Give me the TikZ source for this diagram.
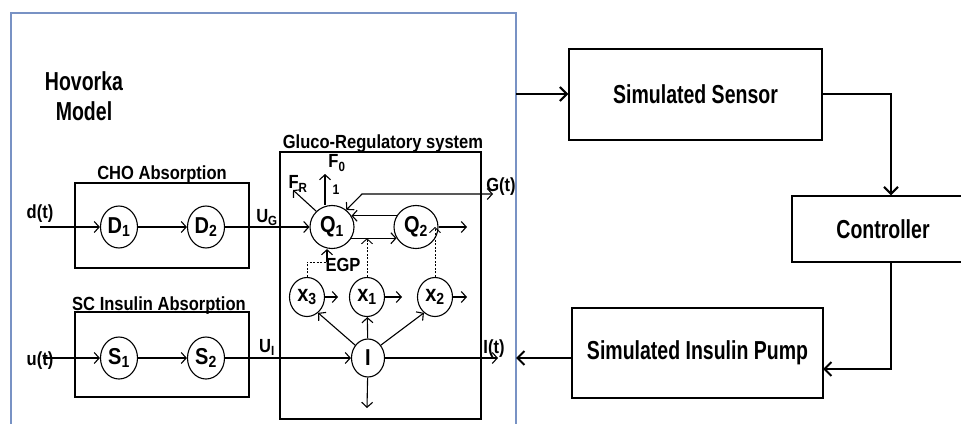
\documentclass[tikz,border=0pt]{standalone}
\usepackage{fontspec}
\setmainfont{Liberation Sans}[FakeStretch=0.87]
\newfontfamily\hvfont{Liberation Sans}[FakeStretch=0.75]
\usetikzlibrary{arrows.meta,positioning,shapes.geometric}
\definecolor{hvblue}{RGB}{120,146,196}

\begin{document}
\begin{tikzpicture}[x=1pt, y=-1pt,
  >={Straight Barb[length=5pt,width=11pt]},
  lbl/.style={font=\fontsize{19}{19}\selectfont\bfseries, inner sep=0pt},
  bigtxt/.style={font=\hvfont\fontsize{26}{30}\selectfont\bfseries, align=center},
  comp/.style={draw, ellipse, line width=1.1pt, minimum width=37pt, minimum height=42pt, inner sep=0pt, font=\fontsize{23}{23}\selectfont\bfseries},
  blk/.style={draw, line width=1.4pt, inner sep=0pt},
  arr/.style={->, line width=1.1pt},
  barr/.style={-{Straight Barb[length=7pt,width=14pt]}, line width=2pt},
  dsh/.style={dash pattern=on 2pt off 1.5pt, line width=0.9pt}]
\useasboundingbox (0,0) rectangle (961,423);
% Hovorka frame
\draw[hvblue, line width=1.8pt] (11,430) -- (11,13) -- (516,13) -- (516,430);
\node[bigtxt] (hov) at (84,96) {Hovorka\\Model};

% CHO absorption
\node[blk, minimum width=174pt, minimum height=85pt] (cho) at (162,225.5) {};
\node[lbl, anchor=base] (chot) at (162,179) {CHO Absorption};
\node[comp] (D1) at (119,227) {D\textsubscript{1}};
\node[comp] (D2) at (206,227) {D\textsubscript{2}};
\node[lbl] (dt) at (40,214) {d(t)};
\coordinate (din) at (40,227);

% SC insulin absorption
\node[blk, minimum width=174pt, minimum height=85pt] (sc) at (162,354.5) {};
\node[lbl, anchor=base] (sct) at (159,310) {SC Insulin Absorption};
\node[comp] (S1) at (119,358) {S\textsubscript{1}};
\node[comp] (S2) at (206,358) {S\textsubscript{2}};
\node[lbl] (ut) at (40,361) {u(t)};
\coordinate (uin) at (43,358);

% gluco-regulatory system
\node[blk, minimum width=201pt, minimum height=267pt] (glu) at (380.5,285.5) {};
\node[lbl, anchor=base] (glut) at (383,148) {Gluco-Regulatory system};
\node[comp, minimum width=44pt, minimum height=43pt] (Q1) at (332,227) {Q\textsubscript{1}};
\node[comp, minimum width=44pt, minimum height=43pt] (Q2) at (416,227) {Q\textsubscript{2}};
\node[comp, minimum width=35pt, minimum height=39pt] (x3) at (307,297) {x\textsubscript{3}};
\node[comp, minimum width=35pt, minimum height=39pt] (x1) at (367,297) {x\textsubscript{1}};
\node[comp, minimum width=35pt, minimum height=39pt] (x2) at (435,297) {x\textsubscript{2}};
\node[comp, minimum width=33pt, minimum height=38pt] (I) at (368,358) {I};

\node[lbl, anchor=south] (UG) at (267,226) {U\textsubscript{G}};
\node[lbl, anchor=south] (UI) at (267,356) {U\textsubscript{I}};
\node[lbl] (Gt) at (501,187) {G(t)};
\node[lbl] (It) at (494,349) {I(t)};
\node[lbl] (F0) at (337,163) {F\textsubscript{0}};
\node[lbl] (FR) at (298,184) {F\textsubscript{R}};
\node[font=\fontsize{14}{14}\selectfont\bfseries, inner sep=0pt] (one) at (336,190) {1};
\node[lbl] (egp) at (343,265) {EGP};

\coordinate (f0) at (325,174);
\coordinate (fr) at (293,190);
\coordinate (gk) at (362,194);
\coordinate (gout) at (493,194);
\coordinate (q2out) at (467,227);
\coordinate (egpin) at (327,262);
\coordinate (iout) at (498,358);
\coordinate (idown) at (367,408);
\coordinate (x3o) at (338,297);
\coordinate (x1o) at (402,297);
\coordinate (x2o) at (467,297);

\draw[arr] (din) -- (D1);
\draw[arr] (D1) -- (D2);
\draw[arr] (D2) -- (Q1);
\draw[arr] (uin) -- (S1);
\draw[arr] (S1) -- (S2);
\draw[arr] (S2) -- (I);
\draw[arr] (Q1.north -| f0) -- (f0);
\draw[arr] (Q1.135) -- (fr);
\draw[arr, <->] (Q1.50) -- (gk) -- (gout);
\draw[arr] (Q2.150) -- (Q1.30);
\draw[arr] (Q1.-30) -- (Q2.-150);
\draw[arr] (Q2) -- (q2out);
\draw[arr, dsh] (x1) -- (x1 |- Q1.-30);
\draw[arr, dsh] (x2) -- (x2 |- Q2.east);
\draw[dsh] (x3) |- (egpin);
\draw[arr] (egpin) -- (egpin |- Q1.south);
\draw[arr] (x3) -- (x3o);
\draw[arr] (x1) -- (x1o);
\draw[arr] (x2) -- (x2o);
\draw[arr] (I.135) -- (x3.-55);
\draw[arr] (I) -- (x1);
\draw[arr] (I.45) -- (x2.-125);
\draw[arr] (I) -- (idown);
\draw[arr] (I) -- (iout);

% loop outside the model
\node[blk, bigtxt, minimum width=253pt, minimum height=91pt] (sens) at (695.5,94.5) {Simulated Sensor};
\node[blk, bigtxt, minimum width=182pt, minimum height=66pt] (ctrl) at (883,229) {Controller};
\node[blk, bigtxt, minimum width=251pt, minimum height=90pt] (pump) at (697.5,353) {Simulated Insulin Pump};
\coordinate (hvout) at (516,94);
\coordinate (hvin) at (516,358);
\coordinate (cx) at (891,0);
\coordinate (pin) at (823,369);
\draw[barr] (hvout) -- (sens.west |- hvout);
\draw[barr] (sens.east |- hvout) -| (ctrl.north -| cx);
\draw[barr] (ctrl.south -| cx) |- (pin);
\draw[barr] (pump.west |- hvin) -- (hvin);
\end{tikzpicture}
\end{document}
